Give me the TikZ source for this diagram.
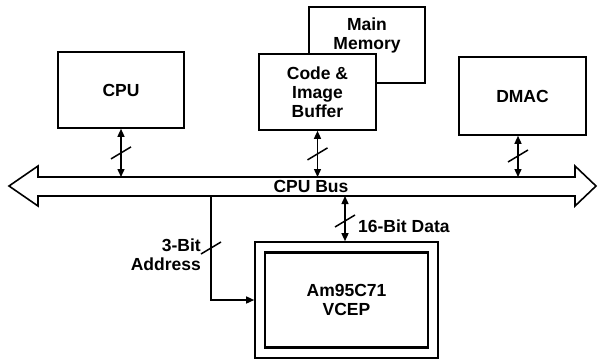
\documentclass[tikz,border=0pt]{standalone}
\usepackage{fontspec}
\setmainfont{Liberation Sans}
\usetikzlibrary{arrows.meta,calc}
\tikzset{
  box/.style={draw, line width=1.6pt, rectangle, fill=white, align=center, inner sep=0pt,
    font=\bfseries\fontsize{17.5}{19}\selectfont},
  lbl/.style={align=center, inner sep=0pt, font=\bfseries\fontsize{17.5}{19}\selectfont},
  conn/.style={line width=1.4pt, {Triangle[length=8pt,width=7pt]}-{Triangle[length=8pt,width=7pt]}},
  oneway/.style={line width=1.4pt, -{Triangle[length=8pt,width=7pt]}},
  slashst/.style={line width=1.5pt},
  busst/.style={line width=1.6pt, line join=miter}
}
\begin{document}
\begin{tikzpicture}[x=1pt,y=-1pt]
\useasboundingbox (0,0) rectangle (599,362);
% boxes
\node[box, minimum width=126pt, minimum height=76pt] (cpu) at (121,90) {CPU};
\node[box, minimum width=116pt, minimum height=76pt] (mem) at (367,45) {};
\node[lbl] (memtext) at (367,35) {Main\\Memory};
\node[box, minimum width=117pt, minimum height=76pt] (buf) at (317.5,92) {Code \&\\Image\\Buffer};
\node[box, minimum width=127pt, minimum height=78pt] (dmac) at (522.5,96) {DMAC};
\node[box, minimum width=183pt, minimum height=116pt] (vcepo) at (346.5,300) {};
\node[box, line width=2.8pt, minimum width=163pt, minimum height=95pt] (vcep) at (346.5,300) {Am95C71\\VCEP};
% bus
\draw[busst] (9,186) -- (38,166) -- (38,177) -- (575,177) -- (575,166) -- (596,186)
  -- (575,206) -- (575,196) -- (38,196) -- (38,206) -- cycle;
\coordinate (bustop) at (0,177);
\coordinate (busbot) at (0,196);
\node[lbl] (buslbl) at (311,186.5) {CPU Bus};
% connectors
\draw[conn] (cpu.south) -- (cpu.south |- bustop);
\draw[slashst] ($(cpu.south)!0.5!(cpu.south |- bustop)$) ++(-10,6) -- ++(20,-12);
\draw[conn] (buf.south) -- (buf.south |- bustop);
\draw[slashst] ($(buf.south)!0.5!(buf.south |- bustop)$) ++(-10,6) -- ++(20,-12);
\draw[conn] (dmac.south -| 518,0) -- (518,177);
\draw[slashst] (518,156) ++(-10,6) -- ++(20,-12);
\coordinate (datatop) at (345,196);
\draw[conn] (datatop) -- (datatop |- vcepo.north);
\draw[slashst] (345,221) ++(-10,6) -- ++(20,-12);
\node[lbl, anchor=west] (datalbl) at (358,226) {16-Bit Data};
\coordinate (addrtop) at (211,196);
\draw[oneway] (addrtop) |- (vcepo.west);
\draw[slashst] (211,248) ++(-10,6) -- ++(20,-12);
\node[lbl, align=right, anchor=east] (addrlbl) at (201,255) {3-Bit\\Address};
\end{tikzpicture}
\end{document}
